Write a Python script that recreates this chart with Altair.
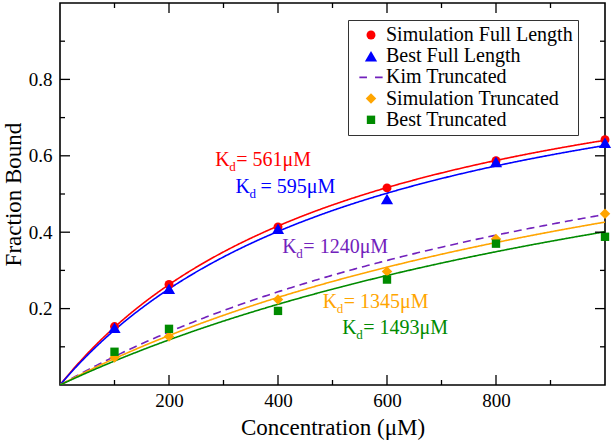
import altair as alt
import pandas as pd

# Concentrations (µM) at which binding was sampled
conc = [100, 200, 400, 600, 800, 1000]

# Fraction bound for each data series
sim_full = [0.153, 0.263, 0.414, 0.516, 0.587, 0.642]
best_full = [0.150, 0.252, 0.409, 0.487, 0.584, 0.634]
sim_trunc = [0.072, 0.127, 0.224, 0.297, 0.382, 0.448]
best_trunc = [0.087, 0.147, 0.194, 0.276, 0.370, 0.388]

# Dissociation constants (µM) of the fitted binding curves
fit_names = ["Simulation Full Length", "Best Full Length", "Kim Truncated",
             "Simulation Truncated", "Best Truncated"]
fit_kd = [561, 595, 1240, 1345, 1493]

# Axis ticks
major_x = [200, 400, 600, 800]
minor_x = [100, 300, 500, 700, 900]
major_y = [0.2, 0.4, 0.6, 0.8]
minor_y = [0.1, 0.3, 0.5, 0.7, 0.9]

series_names = fit_names
series_colors = ["#ff0000", "#0000ff", "#7221bc", "#ffa500", "#008b00"]
# the dashed-line key is drawn as two thin filled bars
dash_key = "M-2.6,-0.2H-0.9V0.2H-2.6ZM0.9,-0.2H2.6V0.2H0.9Z"
series_shapes = ["circle", "triangle-up", dash_key, "diamond", "square"]
marker_sizes = [80, 150, 80, 110, 70]

W, H = 545, 382
FONT = "Liberation Serif"

points = pd.DataFrame({
    "conc": conc * 4,
    "fb": sim_full + best_full + sim_trunc + best_trunc,
    "series": (["Simulation Full Length"] * 6 + ["Best Full Length"] * 6
               + ["Simulation Truncated"] * 6 + ["Best Truncated"] * 6),
})

xs = alt.Scale(domain=[0, 1000], nice=False, zero=False)
ys = alt.Scale(domain=[0, 1], nice=False, zero=False)

axis_style = dict(ticks=False, domain=False, grid=False,
                  labelFont=FONT, labelFontSize=19, labelColor="black",
                  titleFont=FONT, titleFontSize=23, titleFontWeight="normal",
                  titleColor="black")
x_axis = alt.Axis(values=major_x, title="Concentration (μM)",
                  labelPadding=6, titlePadding=6, **axis_style)
y_axis = alt.Axis(values=major_y, title="Fraction Bound",
                  labelPadding=8, titlePadding=3, **axis_style)

color_scale = alt.Scale(domain=series_names, range=series_colors)
shape_scale = alt.Scale(domain=series_names, range=series_shapes)

legend = alt.Legend(
    title=None, orient="none", legendX=288, legendY=17,
    labelFont=FONT, labelFontSize=20, labelColor="black", labelLimit=400,
    symbolSize=64, symbolOffset=8, labelOffset=5,
    rowPadding=1.2, padding=5, strokeColor="#333333", fillColor="white",
    cornerRadius=0,
)

# Fitted single-site binding curves: fb = c / (Kd + c)
curve_src = alt.Chart(alt.sequence(0, 1000.01, 4, as_="conc"))
curves = []
for name, kd, col in zip(fit_names, fit_kd, series_colors):
    dash = [8, 5] if name == "Kim Truncated" else [1, 0]
    curves.append(
        curve_src.transform_calculate(fb=f"datum.conc / ({kd} + datum.conc)")
        .mark_line(color=col, strokeWidth=1.6, strokeDash=dash, clip=True)
        .encode(x=alt.X("conc:Q", scale=xs, axis=x_axis),
                y=alt.Y("fb:Q", scale=ys, axis=y_axis))
    )

pts = alt.Chart(points).mark_point(filled=True, opacity=1).encode(
    x=alt.X("conc:Q", scale=xs, axis=x_axis),
    y=alt.Y("fb:Q", scale=ys, axis=y_axis),
    color=alt.Color("series:N", scale=color_scale, legend=legend),
    shape=alt.Shape("series:N", scale=shape_scale, legend=legend),
    size=alt.Size("series:N", scale=alt.Scale(type="ordinal", domain=series_names,
                                               range=marker_sizes),
                  legend=None),
)

# Kd annotations: anchor (data coordinates), value text, gap before "="
ann_x = [285, 322, 408, 482, 518]
ann_y = [0.59, 0.519, 0.36, 0.216, 0.150]
ann_rest = ["= 561μM", "= 595μM", "= 1240μM", "= 1345μM", "= 1493μM"]
ann_gap = [21, 25, 21, 21, 21]

labels = []
for ax_, ay_, rest, gap, col in zip(ann_x, ann_y, ann_rest, ann_gap, series_colors):
    base = alt.Chart(pd.DataFrame({"conc": [ax_], "fb": [ay_], "rest": [rest]})).encode(
        x=alt.X("conc:Q", scale=xs), y=alt.Y("fb:Q", scale=ys))
    labels += [
        base.mark_text(align="left", baseline="middle", font=FONT, fontSize=20,
                       color=col).encode(text=alt.value("K")),
        base.mark_text(align="left", baseline="middle", font=FONT, fontSize=13,
                       dx=14, dy=7, color=col).encode(text=alt.value("d")),
        base.mark_text(align="left", baseline="middle", font=FONT, fontSize=20,
                       dx=gap, color=col).encode(text="rest:N"),
    ]

# Inward tick marks on all four sides
def xticks(vals, length):
    df = pd.DataFrame({"v": vals})
    bottom = alt.Chart(df).mark_rule(color="black", strokeWidth=1.3).encode(
        x=alt.X("v:Q", scale=xs), y=alt.value(H), y2=alt.value(H - length))
    top = alt.Chart(df).mark_rule(color="black", strokeWidth=1.3).encode(
        x=alt.X("v:Q", scale=xs), y=alt.value(0), y2=alt.value(length))
    return [bottom, top]

def yticks(vals, length):
    df = pd.DataFrame({"v": vals})
    left = alt.Chart(df).mark_rule(color="black", strokeWidth=1.3).encode(
        y=alt.Y("v:Q", scale=ys), x=alt.value(0), x2=alt.value(length))
    right = alt.Chart(df).mark_rule(color="black", strokeWidth=1.3).encode(
        y=alt.Y("v:Q", scale=ys), x=alt.value(W), x2=alt.value(W - length))
    return [left, right]

ticks = xticks(major_x, 10) + xticks(minor_x, 5) + yticks(major_y, 10) + yticks(minor_y, 5)

chart = alt.layer(*curves, pts, *labels, *ticks).properties(
    width=W, height=H,
    autosize=alt.AutoSizeParams(type="none"),
    padding={"left": 60, "top": 3, "right": 8, "bottom": 56},
    background="white",
).configure(
    font=FONT
).configure_view(
    stroke="black", strokeWidth=1.6
)

chart.save("out.html", embed_options={"renderer": "svg", "actions": False})
